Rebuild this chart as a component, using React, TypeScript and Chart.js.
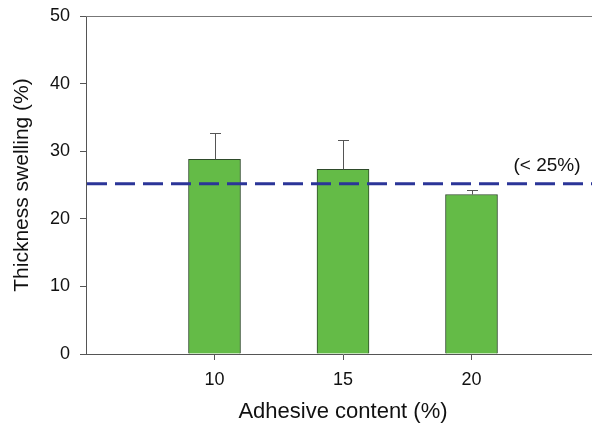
import React, { useEffect, useRef } from "react";
import { Chart, registerables } from "chart.js";

Chart.register(...registerables);

const categories = [10, 15, 20];
const swelling = [28.8, 27.3, 23.6];
const errors = [3.9, 4.4, 0.6];
const yTicks = [0, 10, 20, 30, 40, 50];
const limitValue = 25.2;
const limitLabel = "(< 25%)";
const xTitle = "Adhesive content (%)";
const yTitle = "Thickness swelling (%)";

const FONT = "Arial, 'Liberation Sans', sans-serif";

const overlayPlugin = {
  id: "overlay",
  afterDatasetsDraw(chart: any) {
    const { ctx, chartArea, scales } = chart;
    const x = scales.x;
    const y = scales.y;
    ctx.save();
    // error bars
    ctx.strokeStyle = "#555";
    ctx.lineWidth = 1;
    categories.forEach((c, i) => {
      const px = Math.round(x.getPixelForValue(c)) + 0.5;
      const top = y.getPixelForValue(swelling[i]);
      const end = Math.round(y.getPixelForValue(swelling[i] + errors[i])) + 0.5;
      ctx.beginPath();
      ctx.moveTo(px, top);
      ctx.lineTo(px, end);
      ctx.moveTo(px - 5.5, end);
      ctx.lineTo(px + 5.5, end);
      ctx.stroke();
    });
    // top frame
    ctx.strokeStyle = "#777";
    ctx.lineWidth = 1;
    ctx.beginPath();
    ctx.moveTo(chartArea.left, Math.round(chartArea.top) + 0.5);
    ctx.lineTo(chartArea.right, Math.round(chartArea.top) + 0.5);
    ctx.stroke();
    // limit dashed line
    const ly = y.getPixelForValue(limitValue);
    ctx.strokeStyle = "#2B3598";
    ctx.lineWidth = 3;
    ctx.setLineDash([20, 8]);
    ctx.beginPath();
    ctx.moveTo(chartArea.left + 1, ly);
    ctx.lineTo(chartArea.right, ly);
    ctx.stroke();
    ctx.setLineDash([]);
    // label
    ctx.fillStyle = "#111";
    ctx.font = "19px " + FONT;
    ctx.textAlign = "center";
    ctx.textBaseline = "middle";
    ctx.fillText(limitLabel, x.getPixelForValue(22.94), y.getPixelForValue(27.9));
    ctx.restore();
  },
};

export default function App() {
  const ref = useRef<HTMLCanvasElement>(null);
  useEffect(() => {
    const chart = new Chart(ref.current!, {
      type: "bar",
      data: {
        datasets: [
          {
            data: categories.map((c, i) => ({ x: c, y: swelling[i] })),
            backgroundColor: "#64BB47",
            borderColor: "#2E4A2A",
            borderWidth: 1,
            barThickness: 52,
          },
        ],
      },
      options: {
        animation: false,
        responsive: false,
        maintainAspectRatio: false,
        layout: { padding: { top: 16, right: 0, left: 0, bottom: 0 } },
        plugins: { legend: { display: false }, tooltip: { enabled: false } },
        scales: {
          x: {
            type: "linear",
            min: 5,
            max: 25,
            offset: false,
            afterBuildTicks: (s: any) => {
              s.ticks = categories.map((v) => ({ value: v }));
            },
            afterFit: (s: any) => {
              s.height = 71;
              s.paddingLeft = 0;
              s.paddingRight = 0;
            },
            grid: { display: true, offset: false, drawOnChartArea: false, drawTicks: true, tickLength: 6, color: "#555" },
            border: { display: true, color: "#555" },
            ticks: { color: "#111", font: { family: FONT, size: 18 }, padding: 9 },
            title: { display: true, text: xTitle, color: "#111", font: { family: FONT, size: 22 }, padding: { top: 0, bottom: 0 } },
          },
          y: {
            min: 0,
            max: 50,
            afterBuildTicks: (s: any) => {
              s.ticks = yTicks.map((v) => ({ value: v }));
            },
            afterFit: (s: any) => {
              s.width = 86;
              s.paddingTop = 0;
              s.paddingBottom = 0;
            },
            grid: { display: true, drawOnChartArea: false, drawTicks: true, tickLength: 6, color: "#555" },
            border: { display: true, color: "#555" },
            ticks: { color: "#111", font: { family: FONT, size: 18 }, padding: 10 },
            title: { display: true, text: yTitle, color: "#111", font: { family: FONT, size: 21 }, padding: { top: 10, bottom: 0 } },
          },
        },
      },
      plugins: [overlayPlugin],
    } as any);
    return () => chart.destroy();
  }, []);
  return (
    <div style={{ position: "fixed", left: 0, top: 0, width: 592, height: 425, overflow: "hidden", background: "#fff" }}>
      <canvas ref={ref} width={600} height={425} style={{ width: 600, height: 425, display: "block" }} />
    </div>
  );
}
